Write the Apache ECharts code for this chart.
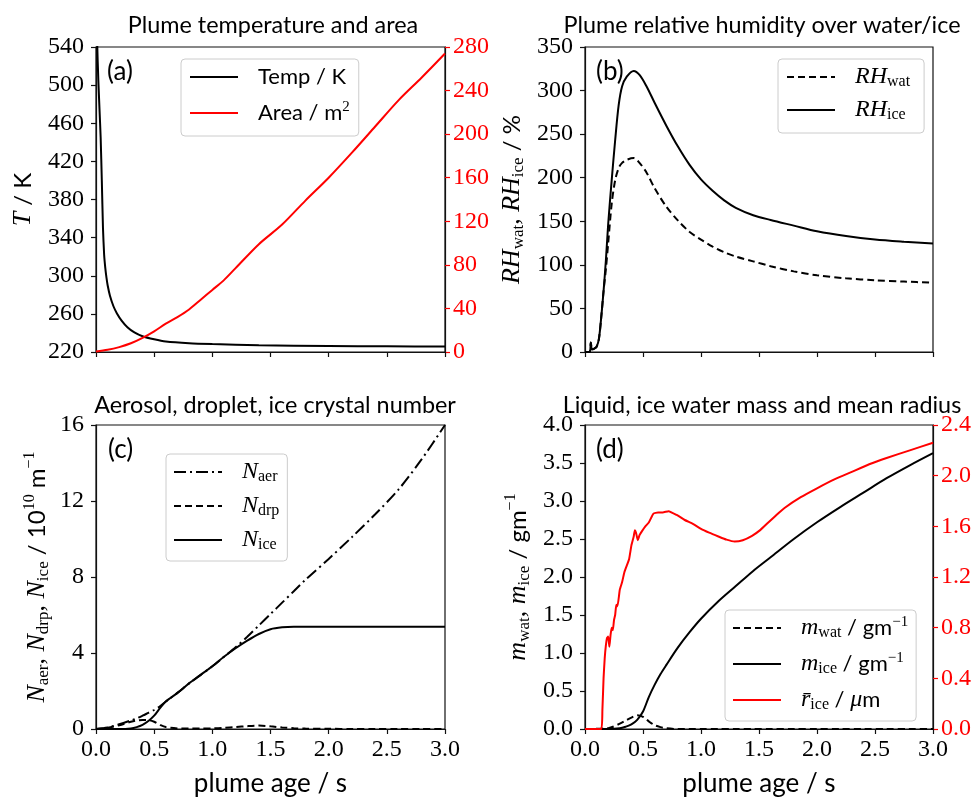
<!DOCTYPE html>
<html><head><meta charset="utf-8">
<script src="https://cdn.jsdelivr.net/npm/echarts@6/dist/echarts.min.js"></script>
<style>html,body{margin:0;padding:0;background:#fff}#c{width:976px;height:799px}</style>
</head><body><div id="c"></div>
<script>
// ---------- data ----------
// (a) temperature / area
const tempT = [0, 0.01, 0.02, 0.03, 0.04, 0.05, 0.06, 0.07, 0.08, 0.09, 0.1, 0.12, 0.15, 0.18, 0.22, 0.27, 0.33, 0.4, 0.5, 0.6, 0.8, 1.0, 1.4, 2.0, 2.5, 3.0];
const tempK = [640, 545, 505, 475, 445, 400, 350, 322, 308, 298, 290, 279, 268, 260.5, 253, 246, 240.5, 236.5, 233.3, 231, 229.2, 228.3, 227, 226.3, 226, 225.8];
const areaT = [0, 0.1, 0.2, 0.3, 0.4, 0.5, 0.6, 0.7, 0.8, 0.9, 1.0, 1.1, 1.2, 1.4, 1.6, 1.8, 2.0, 2.2, 2.4, 2.6, 2.8, 3.0];
const areaM2 = [0.5, 2, 4.5, 8, 13, 19, 26, 32, 39, 48, 57, 66, 77, 99, 117, 139, 160, 183, 207, 231, 252, 274];
// (b) relative humidity
const rhT = [0, 0.04, 0.05, 0.06, 0.08, 0.1, 0.12, 0.14, 0.16, 0.18, 0.2, 0.23, 0.26, 0.29, 0.32, 0.36, 0.42, 0.47, 0.53, 0.6, 0.7, 0.8, 0.9, 1.0, 1.1, 1.2, 1.3, 1.45, 1.6, 1.8, 2.0, 2.25, 2.5, 2.75, 3.0];
const rhIce = [0, 0, 11, 3, 4, 6, 15, 40, 70, 105, 147, 197, 243, 283, 305, 316, 322.5, 318, 305, 286, 260, 236, 215, 198, 185, 174, 165.5, 157, 151.5, 145, 138.5, 133, 129, 126.5, 124.5];
const rhWat = [0, 0, 11, 3, 4, 6, 15, 40, 70, 95, 125, 170, 197, 211, 217, 220.5, 222.5, 217, 206, 188, 167, 151, 138, 129, 121, 114.5, 109.5, 104, 98.5, 92.5, 88, 84.5, 82.3, 80.8, 79.5];
// (c) number concentrations
const cT = [0, 0.1, 0.2, 0.3, 0.35, 0.4, 0.45, 0.5, 0.55, 0.6, 0.7, 0.8, 0.9, 1.0, 1.1, 1.2, 1.3, 1.4, 1.5, 1.6, 1.7, 1.8, 2.0, 2.2, 2.4, 2.6, 2.8, 3.0];
const nAer = [0, 0.08, 0.25, 0.45, 0.56, 0.7, 0.85, 1.0, 1.2, 1.45, 1.9, 2.4, 2.85, 3.3, 3.8, 4.3, 4.85, 5.45, 6.05, 6.65, 7.25, 7.85, 8.95, 10.1, 11.3, 12.6, 14.2, 16.0];
const nDrp = [0, 0.06, 0.2, 0.38, 0.45, 0.48, 0.47, 0.38, 0.22, 0.1, 0.03, 0.02, 0.02, 0.03, 0.06, 0.1, 0.15, 0.18, 0.14, 0.08, 0.04, 0.02, 0.01, 0, 0, 0, 0, 0];
const nIce = [0, 0, 0, 0.03, 0.1, 0.22, 0.42, 0.7, 1.1, 1.45, 1.9, 2.4, 2.85, 3.3, 3.8, 4.25, 4.65, 5.0, 5.25, 5.35, 5.38, 5.38, 5.38, 5.38, 5.38, 5.38, 5.38, 5.38];
// (d) water mass and radius
const mT = [0, 0.2, 0.3, 0.35, 0.4, 0.45, 0.5, 0.55, 0.6, 0.65, 0.7, 0.8, 0.9, 1.0, 1.15, 1.3, 1.45, 1.6, 1.8, 2.0, 2.2, 2.4, 2.6, 2.8, 3.0];
const mWat = [0, 0.01, 0.07, 0.11, 0.15, 0.18, 0.16, 0.1, 0.05, 0.025, 0.01, 0, 0, 0, 0, 0, 0, 0, 0, 0, 0, 0, 0, 0, 0];
const mIce = [0, 0, 0.01, 0.03, 0.06, 0.12, 0.23, 0.42, 0.58, 0.72, 0.84, 1.07, 1.27, 1.45, 1.68, 1.88, 2.08, 2.26, 2.5, 2.72, 2.92, 3.11, 3.3, 3.47, 3.63];
const rT = [0, 0.14, 0.15, 0.16, 0.17, 0.18, 0.19, 0.2, 0.21, 0.22, 0.23, 0.24, 0.25, 0.26, 0.27, 0.28, 0.3, 0.32, 0.34, 0.36, 0.38, 0.4, 0.42, 0.43, 0.44, 0.455, 0.47, 0.49, 0.52, 0.55, 0.59, 0.63, 0.67, 0.72, 0.79, 0.86, 0.93, 1.0, 1.07, 1.15, 1.22, 1.29, 1.36, 1.44, 1.51, 1.58, 1.65, 1.72, 1.86, 2.0, 2.15, 2.3, 2.45, 2.6, 2.8, 3.0];
const rIce = [0, 0, 0.15, 0.4, 0.56, 0.66, 0.72, 0.73, 0.65, 0.74, 0.8, 0.78, 0.86, 0.9, 0.98, 0.97, 1.1, 1.16, 1.24, 1.29, 1.34, 1.45, 1.52, 1.57, 1.55, 1.49, 1.53, 1.56, 1.6, 1.63, 1.7, 1.71, 1.71, 1.72, 1.69, 1.65, 1.62, 1.58, 1.55, 1.52, 1.495, 1.48, 1.49, 1.525, 1.57, 1.63, 1.69, 1.745, 1.83, 1.9, 1.97, 2.03, 2.09, 2.14, 2.2, 2.26];
// tick settings
const xTicks = {min: 0, max: 3, interval: 0.5};
const tTicks = {min: 220, max: 540, interval: 40};
const aTicks = {min: 0, max: 280, interval: 40};
const rhTicks = {min: 0, max: 350, interval: 50};
const nTicks = {min: 0, max: 16, interval: 4};
const mTicks = {min: 0, max: 4, interval: 0.5};
const rTicks = {min: 0, max: 2.4, interval: 0.4};

// ---------- styling ----------
const SERIF = 'Liberation Serif', SANS = 'Lato';
const RED = '#ff0000', BLK = '#000000';
const zip = (xs, ys) => xs.map((x, i) => [x, ys[i]]);

function mkRich(fs, lh) {
  return {
    t: {fontFamily: SANS, fontSize: fs, lineHeight: lh, color: BLK},
    i: {fontFamily: SERIF, fontStyle: 'italic', fontSize: fs + 2, lineHeight: lh, color: BLK},
    r: {fontFamily: SERIF, fontSize: fs + 2, lineHeight: lh, color: BLK},
    s: {fontFamily: SERIF, fontSize: Math.round(fs * 0.72), lineHeight: Math.round(fs * 0.55), verticalAlign: 'bottom', color: BLK},
    p: {fontFamily: SERIF, fontSize: Math.round(fs * 0.68), lineHeight: Math.round(fs * 0.8), verticalAlign: 'top', color: BLK},
    g: {width: 15, lineHeight: lh}
  };
}

const grids = [
  {left: 96, top: 47, width: 349, height: 305},
  {left: 585, top: 47, width: 348, height: 305},
  {left: 96, top: 425, width: 349, height: 304},
  {left: 585, top: 425, width: 348, height: 304}
].map(g => Object.assign({show: true, borderColor: '#111', borderWidth: 1.2, backgroundColor: 'transparent'}, g));

function xAx(gi, labels) {
  return Object.assign({
    type: 'value', gridIndex: gi,
    axisLine: {show: true, onZero: false, lineStyle: {color: '#111', width: 1.2}},
    axisTick: {show: true, length: 5, lineStyle: {color: '#111', width: 1.2}},
    splitLine: {show: false},
    axisLabel: {show: labels, margin: 9, color: BLK, fontFamily: SERIF, fontSize: 24, formatter: v => v.toFixed(1)},
    name: labels ? 'plume age / s' : '', nameLocation: 'middle', nameGap: 42,
    nameTextStyle: {fontFamily: SANS, fontSize: 26, color: BLK}
  }, xTicks);
}
function yAx(gi, ticks, opts) {
  const col = opts.color || BLK;
  return Object.assign({
    type: 'value', gridIndex: gi, position: opts.right ? 'right' : 'left',
    axisLine: {show: true, onZero: false, lineStyle: {color: '#111', width: 1.2}},
    axisTick: {show: true, length: 5, lineStyle: {color: col === BLK ? '#111' : col, width: 1.2}},
    splitLine: {show: false},
    axisLabel: {show: true, margin: opts.right ? 8 : 12, color: col, fontFamily: SERIF, fontSize: 24,
      formatter: opts.fmt || (v => String(v))},
    name: opts.name || '', nameLocation: 'middle', nameGap: opts.gap || 50, nameRotate: 90,
    nameTextStyle: {fontFamily: SANS, fontSize: 24, color: BLK, rich: mkRich(24, 30)}
  }, ticks);
}

const legendBase = {
  orient: 'vertical', itemWidth: 48, itemHeight: 12, selectedMode: false,
  itemStyle: {opacity: 0, borderWidth: 0},
  borderColor: '#cccccc', borderWidth: 1, borderRadius: 4, backgroundColor: 'rgba(255,255,255,0.85)',
  textStyle: {fontFamily: SANS, fontSize: 22, color: BLK, lineHeight: 26, rich: mkRich(22, 26)}
};
const legendText = {
  'Temp': '{g| }{t|Temp / K}',
  'Area': '{g| }{t|Area / m}{p|2}',
  'RHwat': '{g| }{i|RH}{s|wat}',
  'RHice': '{g| }{i|RH}{s|ice}',
  'Naer': '{g| }{i|N}{s|aer}',
  'Ndrp': '{g| }{i|N}{s|drp}',
  'Nice': '{g| }{i|N}{s|ice}',
  'mwat': '{g| }{i|m}{s|wat}{t| / gm}{p|\u22121}',
  'mice': '{g| }{i|m}{s|ice}{t| / gm}{p|\u22121}',
  'rice': '{g| }{i|r\u0304}{s|ice}{t| / }{i|\u03bc}{t|m}'
};
const fmtLegend = name => legendText[name];

function line(name, xi, yi, xs, ys, color, type, smooth) {
  return {
    type: 'line', name: name, xAxisIndex: xi, yAxisIndex: yi, data: zip(xs, ys),
    symbol: 'none', showSymbol: false, clip: true, smooth: smooth === undefined ? 0.3 : smooth,
    lineStyle: {color: color, width: 2, type: type || 'solid'}, itemStyle: {color: color},
    emphasis: {disabled: true}, silent: true
  };
}

const titleStyle = {fontFamily: SANS, fontSize: 23.4, fontWeight: 'normal', color: BLK};
const panelStyle = {fontFamily: SANS, fontSize: 26, fontWeight: 'normal', color: BLK};

const option = {
  animation: false,
  backgroundColor: '#ffffff',
  title: [
    {text: 'Plume temperature and area', left: 268, top: 9, textAlign: 'center', textStyle: titleStyle},
    {text: 'Plume relative humidity over water/ice', left: 757, top: 9, textAlign: 'center', textStyle: titleStyle},
    {text: 'Aerosol, droplet, ice crystal number', left: 270, top: 389, textAlign: 'center', textStyle: titleStyle},
    {text: 'Liquid, ice water mass and mean radius', left: 757, top: 389, textAlign: 'center', textStyle: titleStyle},
    {text: '(a)', left: 102, top: 54, textStyle: panelStyle},
    {text: '(b)', left: 591, top: 54, textStyle: panelStyle},
    {text: '(c)', left: 103, top: 432, textStyle: panelStyle},
    {text: '(d)', left: 591, top: 432, textStyle: panelStyle}
  ],
  grid: grids,
  xAxis: [xAx(0, false), xAx(1, false), xAx(2, true), xAx(3, true)],
  yAxis: [
    yAx(0, tTicks, {name: '{i|T}{t| / K}', gap: 58}),
    yAx(0, aTicks, {right: true, color: RED}),
    yAx(1, rhTicks, {name: '{i|RH}{s|wat}{r|, }{i|RH}{s|ice}{t| / %}', gap: 58}),
    yAx(2, nTicks, {name: '{i|N}{s|aer}{r|, }{i|N}{s|drp}{r|, }{i|N}{s|ice}{t| / 10}{p|10}{t| m}{p|\u22121}', gap: 44}),
    yAx(3, mTicks, {name: '{i|m}{s|wat}{r|, }{i|m}{s|ice}{t| / gm}{p|\u22121}', gap: 52, fmt: v => v.toFixed(1)}),
    yAx(3, rTicks, {right: true, color: RED, fmt: v => v.toFixed(1)})
  ],
  legend: [
    Object.assign({}, legendBase, {data: ['Temp', 'Area'], left: 181, top: 59, itemGap: 10, padding: [5, 9, 10, 8], formatter: fmtLegend}),
    Object.assign({}, legendBase, {data: ['RHwat', 'RHice'], left: 778, top: 59, itemGap: 7, padding: [5, 14, 10, 8], formatter: fmtLegend}),
    Object.assign({}, legendBase, {data: ['Naer', 'Ndrp', 'Nice'], left: 166, top: 454, itemGap: 8, padding: [5, 8, 8, 7], formatter: fmtLegend}),
    Object.assign({}, legendBase, {data: ['mwat', 'mice', 'rice'], left: 725, top: 610, itemGap: 10, padding: [5, 8, 8, 7], formatter: fmtLegend})
  ],
  series: [
    line('Temp', 0, 0, tempT, tempK, BLK, 'solid', 0.2),
    line('Area', 0, 1, areaT, areaM2, RED),
    line('RHwat', 1, 2, rhT, rhWat, BLK, [7, 4]),
    line('RHice', 1, 2, rhT, rhIce, BLK),
    line('Naer', 2, 3, cT, nAer, BLK, [12, 4, 2, 4]),
    line('Ndrp', 2, 3, cT, nDrp, BLK, [7, 4]),
    line('Nice', 2, 3, cT, nIce, BLK),
    line('mwat', 3, 4, mT, mWat, BLK, [7, 4]),
    line('mice', 3, 4, mT, mIce, BLK),
    line('rice', 3, 5, rT, rIce, RED, 'solid', 0.15)
  ]
};
const chart = echarts.init(document.getElementById('c'), null, {renderer: 'canvas'});
chart.setOption(option);
</script></body></html>
